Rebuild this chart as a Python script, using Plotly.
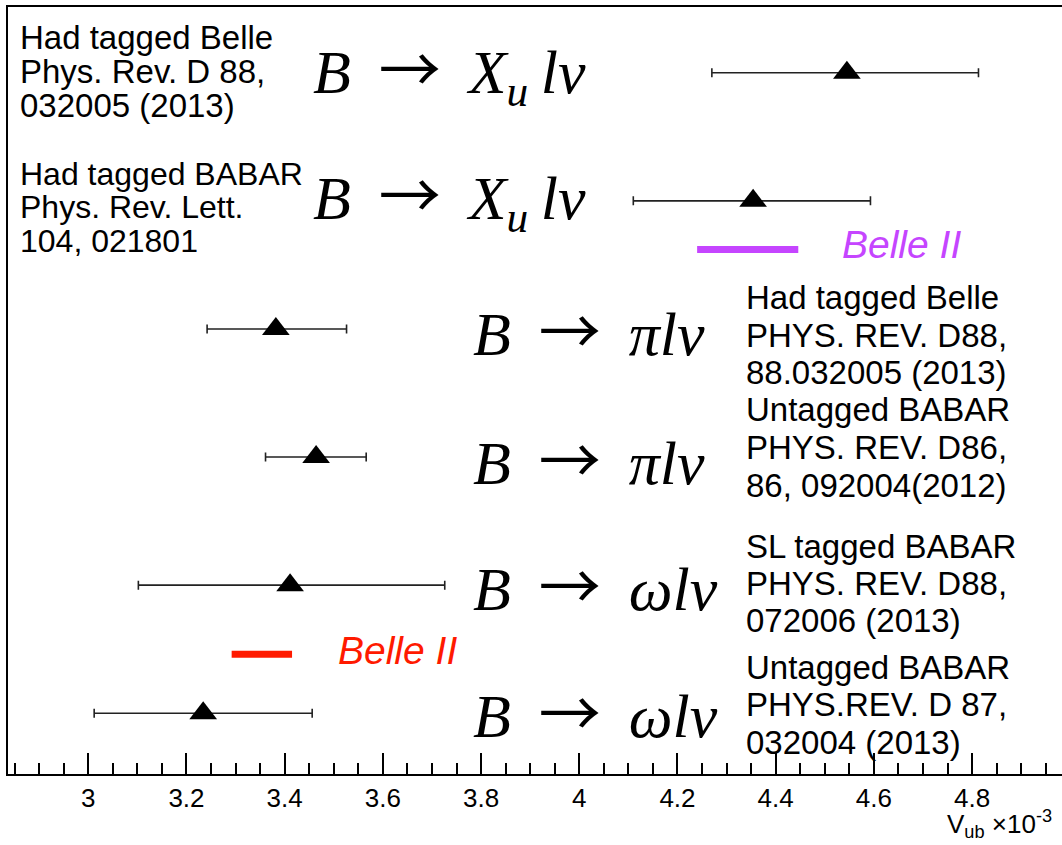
import plotly.graph_objects as go

# ---------------- data ----------------
rows = [6, 5, 4, 3, 2, 1]
vub = [4.545, 4.354, 3.382, 3.464, 3.411, 3.234]
err_lo = [0.275, 0.244, 0.140, 0.103, 0.309, 0.222]
err_hi = [0.268, 0.239, 0.144, 0.102, 0.315, 0.222]

ARROW = "&#8201; <span style='font-family:Noto Sans CJK JP'>→</span> &#8201;"
decay_labels = [
    "<i>B</i>" + ARROW + "<i>X<sub>u</sub>&#8201;lν</i>",
    "<i>B</i>" + ARROW + "<i>X<sub>u</sub>&#8201;lν</i>",
    "<i>B</i>" + ARROW + "<i>πlν</i>",
    "<i>B</i>" + ARROW + "<i>πlν</i>",
    "<i>B</i>" + ARROW + "<i>ωlν</i>",
    "<i>B</i>" + ARROW + "<i>ωlν</i>",
]
ref_labels = [
    ["Had tagged Belle", "Phys. Rev. D 88,", "032005 (2013)"],
    ["Had tagged BABAR", "Phys. Rev. Lett.", "104, 021801"],
    ["Had tagged Belle", "PHYS. REV. D88,", "88.032005 (2013)"],
    ["Untagged BABAR", "PHYS. REV. D86,", "86, 092004(2012)"],
    ["SL tagged BABAR", "PHYS. REV. D88,", "072006 (2013)"],
    ["Untagged BABAR", "PHYS.REV. D 87,", "032004 (2013)"],
]

belle2_purple_x = [4.240, 4.446]
belle2_purple_y = [4.62, 4.62]
belle2_red_x = [3.292, 3.415]
belle2_red_y = [1.46, 1.46]

tick_vals = [3.0, 3.2, 3.4, 3.6, 3.8, 4.0, 4.2, 4.4, 4.6, 4.8]
tick_text = ["3", "3.2", "3.4", "3.6", "3.8", "4", "4.2", "4.4", "4.6", "4.8"]

x_range = [2.8365, 4.9831]
y_range = [0.526, 6.513]

# ---------------- layout geometry ----------------
W, H = 1062, 845
PL, PR, PT, PB = 8, 1062, 7, 774


def px(x):
    return (x - PL) / (PR - PL)


def py(y):
    return (PB - y) / (PB - PT)


fig = go.Figure()

fig.add_trace(go.Scatter(
    x=vub, y=rows, mode="markers",
    marker=dict(symbol="triangle-up", size=24, color="black"),
    error_x=dict(type="data", symmetric=False, array=err_hi, arrayminus=err_lo,
                 color="#222222", thickness=1.6, width=4.5),
    showlegend=False, hoverinfo="skip",
))

fig.add_trace(go.Scatter(
    x=belle2_purple_x, y=belle2_purple_y, mode="lines",
    line=dict(color="#c545ff", width=7), showlegend=False, hoverinfo="skip",
))
fig.add_trace(go.Scatter(
    x=belle2_red_x, y=belle2_red_y, mode="lines",
    line=dict(color="#ff1a00", width=7), showlegend=False, hoverinfo="skip",
))

annotations = []
sans = "Liberation Sans, Arial, sans-serif"
serif = "Liberation Serif, DejaVu Serif, serif"

# decay labels (pixel positions of left edge / vertical centre)
decay_pos = [(311, 68), (311, 194), (471, 328), (471, 457), (471, 583), (471, 710)]
for lab, (x0, y0) in zip(decay_labels, decay_pos):
    annotations.append(dict(
        text=lab, xref="paper", yref="paper", x=px(x0), y=py(y0),
        xanchor="left", yanchor="middle", showarrow=False,
        font=dict(family=serif, size=62, color="black"),
    ))

# reference labels
ref_pos = [
    (18, [38, 71, 105], 33),
    (18, [174, 207, 241], 32),
    (744, [297, 335, 372], 33),
    (744, [410, 448, 486], 33),
    (744, [546, 583, 620], 33),
    (744, [667, 704, 742], 33),
]
for lines, (x0, ys, fs) in zip(ref_labels, ref_pos):
    for t, yy in zip(lines, ys):
        annotations.append(dict(
            text=t, xref="paper", yref="paper", x=px(x0), y=py(yy),
            xanchor="left", yanchor="middle", showarrow=False,
            font=dict(family=sans, size=fs, color="black"),
        ))

# Belle II labels
annotations.append(dict(
    text="<i>Belle II</i>", xref="paper", yref="paper", x=px(840), y=py(245),
    xanchor="left", yanchor="middle", showarrow=False,
    font=dict(family=sans, size=39, color="#c545ff"),
))
annotations.append(dict(
    text="<i>Belle II</i>", xref="paper", yref="paper", x=px(336), y=py(650),
    xanchor="left", yanchor="middle", showarrow=False,
    font=dict(family=sans, size=39, color="#ff1a00"),
))

# axis title
annotations.append(dict(
    text="V<sub>ub</sub> ×10<sup>-3</sup>", xref="paper", yref="paper",
    x=px(945), y=py(824), xanchor="left", yanchor="middle", showarrow=False,
    font=dict(family=sans, size=26, color="black"),
))

fig.update_layout(
    width=W, height=H,
    margin=dict(l=PL, r=W - PR, t=PT, b=H - PB, pad=0),
    paper_bgcolor="white", plot_bgcolor="white",
    annotations=annotations,
    xaxis=dict(
        range=x_range, showgrid=False, zeroline=False,
        showline=True, linecolor="black", linewidth=2, mirror=True,
        tickvals=tick_vals, ticktext=tick_text,
        ticks="inside", ticklen=21, tickwidth=1.5, tickcolor="black",
        tickfont=dict(family=sans, size=26, color="black"),
        minor=dict(dtick=0.05, tick0=3.0, ticks="inside", ticklen=11,
                   tickwidth=1.5, tickcolor="black"),
    ),
    yaxis=dict(
        range=y_range, showgrid=False, zeroline=False,
        showline=True, linecolor="black", linewidth=2, mirror=False,
        showticklabels=False, ticks="",
    ),
)

fig.write_html("out.html")
